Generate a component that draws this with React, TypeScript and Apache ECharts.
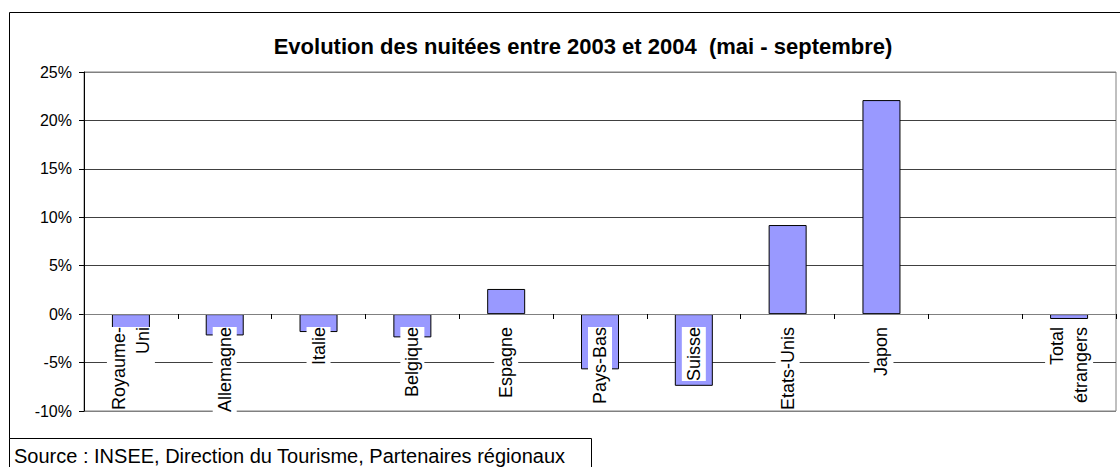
import React, { useEffect, useRef } from "react";
import * as echarts from "echarts";

const categories = [
  "Royaume-\nUni",
  "Allemagne",
  "Italie",
  "Belgique",
  "Espagne",
  "Pays-Bas",
  "Suisse",
  "Etats-Unis",
  "Japon",
  "",
  "Total\nétrangers",
];
const values = [-4.2, -2.2, -1.85, -2.4, 2.6, -5.7, -7.4, 9.2, 22.1, null, -0.5];
const yTicks = { min: -10, max: 25, interval: 5 };
const titleText = "Evolution des nuitées entre 2003 et 2004  (mai - septembre)";
const sourceText = "Source : INSEE, Direction du Tourisme, Partenaires régionaux";

export default function App() {
  const ref = useRef<HTMLDivElement>(null);
  useEffect(() => {
    const chart = echarts.init(ref.current!, undefined, { renderer: "svg" });
    const font = "Liberation Sans, Arial, sans-serif";
    const gridTop = 72;
    const gridBottomY = 411;
    const zeroOffset = Math.round(((gridBottomY - gridTop) * (0 - yTicks.min)) / (yTicks.max - yTicks.min));
    chart.setOption({
      animation: false,
      backgroundColor: "#fff",
      textStyle: { fontFamily: font },
      title: {
        text: titleText,
        left: 578,
        top: 30,
        textAlign: "center",
        textStyle: { fontFamily: font, fontSize: 22, fontWeight: "bold", color: "#000" },
      },
      grid: {
        left: 84,
        right: 4,
        top: gridTop,
        bottom: 467 - gridBottomY,
        show: true,
        borderColor: "#808080",
        borderWidth: 1,
        containLabel: false,
        outerBoundsMode: "none",
      },
      xAxis: {
        type: "category",
        data: categories,
        position: "bottom",
        offset: -zeroOffset,
        z: 5,
        axisLine: { onZero: false, lineStyle: { color: "#808080", width: 1 } },
        axisTick: { show: true, interval: 0, length: 5, lineStyle: { color: "#000" } },
        axisLabel: {
          interval: 0,
          rotate: 90,
          margin: 13,
          fontSize: 18,
          lineHeight: 24,
          color: "#000",
          fontFamily: font,
          backgroundColor: "#fff",
          hideOverlap: false,
        },
        splitLine: { show: false },
      },
      yAxis: {
        type: "value",
        min: yTicks.min,
        max: yTicks.max,
        interval: yTicks.interval,
        axisLine: { show: true, lineStyle: { color: "#000" } },
        axisTick: { show: true, length: 5, lineStyle: { color: "#000" } },
        axisLabel: { formatter: "{value}%", fontSize: 16, color: "#000", margin: 12, fontFamily: font },
        splitLine: {
          show: true,
          lineStyle: {
            color: ["#808080", "#404040", "#808080", "#404040", "#404040", "#404040", "#404040", "#808080"],
            width: 1,
          },
        },
      },
      series: [
        {
          type: "bar",
          data: values,
          barWidth: 38,
          itemStyle: { color: "#9999FF", borderColor: "#000", borderWidth: 1 },
        },
      ],
      graphic: [
        {
          type: "rect",
          shape: { x: 9.5, y: 12.5, width: 1130, height: 480 },
          style: { fill: "none", stroke: "#000", lineWidth: 1 },
          z: 10,
        },
        {
          type: "rect",
          shape: { x: 9.5, y: 438.5, width: 582, height: 40 },
          style: { fill: "#fff", stroke: "#000", lineWidth: 1 },
          z: 10,
        },
        {
          type: "text",
          x: 14,
          y: 456,
          z: 11,
          style: { text: sourceText, fontSize: 20, fontFamily: font, fill: "#000", verticalAlign: "middle" },
        },
      ],
    });
    return () => chart.dispose();
  }, []);
  return <div ref={ref} style={{ position: "fixed", left: 0, top: 0, width: 1120, height: 467 }} />;
}
